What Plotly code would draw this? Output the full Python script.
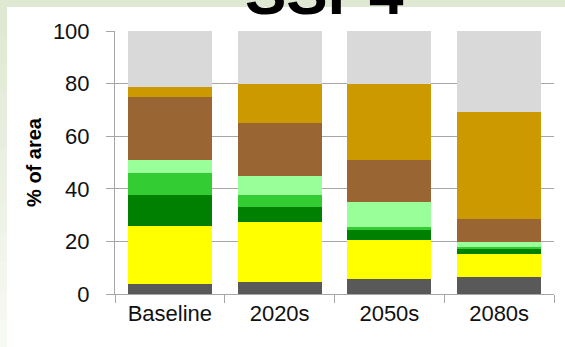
import plotly.graph_objects as go

categories = ["Baseline", "2020s", "2050s", "2080s"]

series_names = ["Urban", "Arable", "Forest", "Woodland", "Grassland",
                "Pasture", "Shrubland", "Other"]
urban = [3.7, 4.4, 5.7, 6.3]
arable = [22.0, 22.8, 14.8, 8.8]
forest = [11.8, 5.9, 3.8, 2.3]
woodland = [8.4, 4.7, 1.2, 0.3]
grassland = [4.9, 7.2, 9.6, 2.0]
pasture = [24.1, 20.0, 15.7, 8.9]
shrubland = [3.8, 15.0, 28.9, 40.6]
other = [21.3, 20.0, 20.3, 30.8]

series_values = [urban, arable, forest, woodland, grassland, pasture, shrubland, other]
colors = ["#595959", "#ffff00", "#008000", "#33cc33", "#99ff99",
          "#996633", "#cc9900", "#d9d9d9"]

y_ticks = [0, 20, 40, 60, 80, 100]

fig = go.Figure()
for name, vals, col in zip(series_names, series_values, colors):
    fig.add_trace(go.Bar(x=categories, y=vals, name=name,
                         marker=dict(color=col, line=dict(width=0)),
                         showlegend=False))

W, H = 565, 347
ml, mr, mt, mb = 115, 11, 31, 53
pw = W - ml - mr
ph = H - mt - mb

def px(x):
    return (x - ml) / pw

def py(y):
    return (H - mb - y) / ph

shapes = []
# greenish frame background: white card
shapes.append(dict(type="rect", xref="paper", yref="paper",
                   x0=px(7), x1=px(W + 5), y0=py(H + 5), y1=py(7),
                   fillcolor="white", line=dict(width=0), layer="below"))
# left band gradient
steps = 12
c_top = (0xdf, 0xe8, 0xd3)
c_bot = (0xf7, 0xf9, 0xf3)
for i in range(steps):
    t = i / (steps - 1)
    c = tuple(int(round(c_top[k] + (c_bot[k] - c_top[k]) * t)) for k in range(3))
    y0p = 7 + (H - 7) * i / steps
    y1p = 7 + (H - 7) * (i + 1) / steps
    shapes.append(dict(type="rect", xref="paper", yref="paper",
                       x0=px(-2), x1=px(7), y0=py(y1p + 0.5), y1=py(y0p),
                       fillcolor="rgb(%d,%d,%d)" % c, line=dict(width=0),
                       layer="below"))

fig.update_layout(
    barmode="stack",
    bargap=0.235,
    width=W, height=H,
    margin=dict(l=ml, r=mr, t=mt, b=mb, pad=0),
    paper_bgcolor="#dfe8d3",
    plot_bgcolor="white",
    shapes=shapes,
    font=dict(family="Liberation Sans, Arial, sans-serif", color="#111111", size=22),
    xaxis=dict(showline=True, linecolor="#a6a6a6", linewidth=1,
               ticks="outside", tickson="boundaries", ticklen=8,
               tickcolor="#a6a6a6", tickfont=dict(size=22),
               showgrid=False),
    yaxis=dict(range=[0, 100], tickvals=y_ticks, showline=True,
               linecolor="#a6a6a6", linewidth=1, showgrid=True,
               gridcolor="#a6a6a6", gridwidth=1, ticks="outside",
               ticklen=8, tickcolor="#a6a6a6", tickfont=dict(size=22),
               ticklabelstandoff=12, zeroline=False,
               title=dict(text="<b>% of area</b>", font=dict(size=20, color="black"),
                          standoff=5)),
    annotations=[dict(text="<b>SSP4</b>", xref="paper", yref="paper",
                      x=px(324), y=py(16), xanchor="center", yanchor="bottom",
                      showarrow=False, font=dict(size=62, color="black"),
                      yshift=-13)],
)

fig.write_html("out.html")
